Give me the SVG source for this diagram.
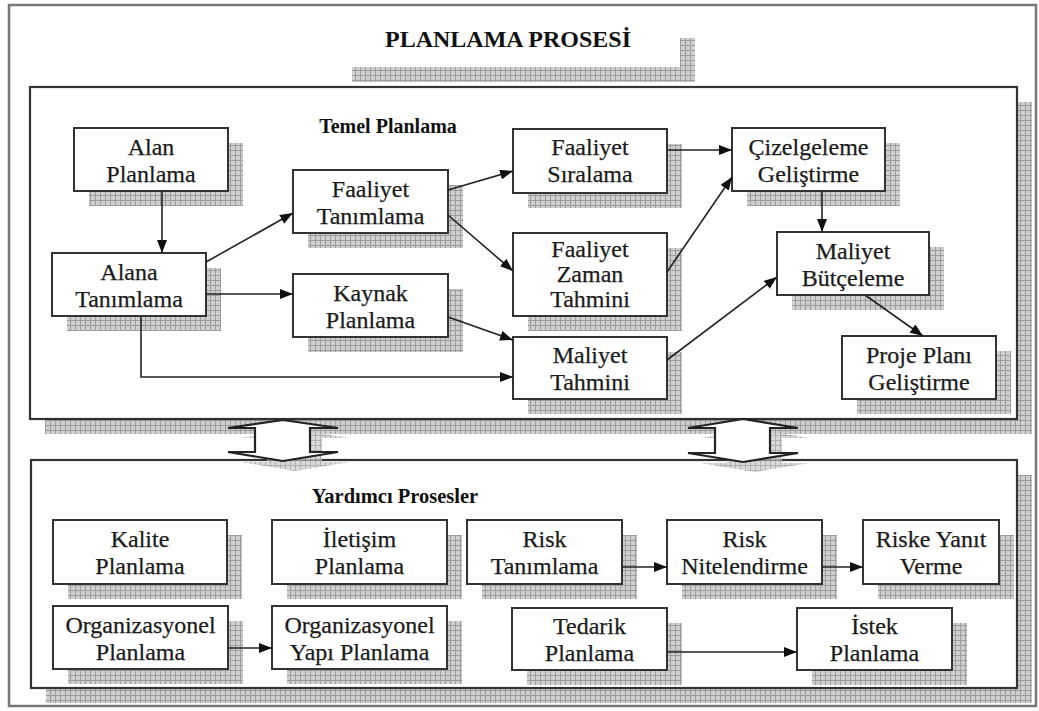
<svg xmlns="http://www.w3.org/2000/svg" width="1039" height="711" viewBox="0 0 1039 711">
<style>
.t{font-family:"Liberation Serif","Times New Roman",serif;font-size:24px;text-anchor:middle;fill:#1a1a1a;stroke:#1a1a1a;stroke-width:0.25}
.h{font-family:"Liberation Serif","Times New Roman",serif;font-weight:bold;text-anchor:middle;fill:#111}
.box{fill:#fff;stroke:#333;stroke-width:2}
.sh{fill:url(#grid)}
.frame{fill:#fff;stroke:#333;stroke-width:2.2}
.con{fill:none;stroke:#222;stroke-width:1.6;marker-end:url(#arr)}
.dbl{fill:#fff;stroke:#222;stroke-width:2.2;stroke-linejoin:miter}
</style>
<defs>
<pattern id="grid" width="5" height="5" patternUnits="userSpaceOnUse">
<rect width="5" height="5" fill="#cfcfcf"/>
<path d="M0 0.5H5M0.5 0V5" stroke="#9c9c9c" stroke-width="1"/>
</pattern>
<marker id="arr" markerUnits="userSpaceOnUse" markerWidth="14" markerHeight="10" refX="13" refY="5" orient="auto">
<path d="M0,0 L13,5 L0,10 z" fill="#111"/>
</marker>
</defs>
<rect width="1039" height="711" fill="#fff"/>
<rect x="9" y="5" width="1027" height="701" fill="none" stroke="#777" stroke-width="2.5"/>

<g id="title">
<path class="sh" d="M352 67H680V38H695V82H352Z"/>
<text class="h" x="508" y="47" font-size="24">PLANLAMA PROSESİ</text>
</g>

<g id="temel-planlama">
<rect class="sh" x="45" y="102" width="987" height="332"/>
<rect class="frame" x="30" y="87" width="987" height="332"/>
<text class="h" x="388" y="133" font-size="20">Temel Planlama</text>
</g>

<g id="yardimci-prosesler">
<rect class="sh" x="46" y="475" width="986" height="228"/>
<rect class="frame" x="31" y="460" width="986" height="228"/>
<text class="h" x="395" y="503" font-size="20.5">Yardımcı Prosesler</text>
</g>

<g id="double-arrow-left">
<path class="sh" opacity="0.8" d="M295 430L350 438H322V462H350L295 471L240 462H267V438H240Z"/>
<path class="dbl" d="M283 420L338 428H310V452H338L283 461L228 452H255V428H228Z"/>
</g>
<g id="double-arrow-right">
<path class="sh" opacity="0.8" d="M755 429L810 438H782V463H810L755 472L700 463H727V438H700Z"/>
<path class="dbl" d="M743 419L798 428H770V453H798L743 462L688 453H715V428H688Z"/>
</g>

<g id="n-alan-planlama">
<rect class="sh" x="89" y="143" width="154" height="63"/>
<rect class="box" x="74" y="128" width="154" height="63"/>
<text class="t" x="151" y="155">Alan</text><text class="t" x="151" y="182">Planlama</text>
</g>
<g id="n-alana-tanimlama">
<rect class="sh" x="67" y="268" width="154" height="63"/>
<rect class="box" x="52" y="253" width="154" height="63"/>
<text class="t" x="129" y="280">Alana</text><text class="t" x="129" y="307">Tanımlama</text>
</g>
<g id="n-faaliyet-tanimlama">
<rect class="sh" x="308" y="185" width="155" height="63"/>
<rect class="box" x="293" y="170" width="155" height="63"/>
<text class="t" x="370.5" y="197">Faaliyet</text><text class="t" x="370.5" y="224">Tanımlama</text>
</g>
<g id="n-kaynak-planlama">
<rect class="sh" x="308" y="289" width="155" height="63"/>
<rect class="box" x="293" y="274" width="155" height="63"/>
<text class="t" x="370.5" y="301">Kaynak</text><text class="t" x="370.5" y="328">Planlama</text>
</g>
<g id="n-faaliyet-siralama">
<rect class="sh" x="528" y="144" width="154" height="64"/>
<rect class="box" x="513" y="129" width="154" height="64"/>
<text class="t" x="590" y="155">Faaliyet</text><text class="t" x="590" y="182">Sıralama</text>
</g>
<g id="n-faaliyet-zaman-tahmini">
<rect class="sh" x="528" y="248" width="154" height="83"/>
<rect class="box" x="513" y="233" width="154" height="83"/>
<text class="t" x="590" y="257">Faaliyet</text><text class="t" x="590" y="282">Zaman</text><text class="t" x="590" y="307">Tahmini</text>
</g>
<g id="n-maliyet-tahmini">
<rect class="sh" x="528" y="352" width="154" height="62"/>
<rect class="box" x="513" y="337" width="154" height="62"/>
<text class="t" x="590" y="363">Maliyet</text><text class="t" x="590" y="390">Tahmini</text>
</g>
<g id="n-cizelgeleme-gelistirme">
<rect class="sh" x="747" y="143" width="153" height="63"/>
<rect class="box" x="732" y="128" width="153" height="63"/>
<text class="t" x="808.5" y="155">Çizelgeleme</text><text class="t" x="808.5" y="182">Geliştirme</text>
</g>
<g id="n-maliyet-butceleme">
<rect class="sh" x="792" y="247" width="152" height="63"/>
<rect class="box" x="777" y="232" width="152" height="63"/>
<text class="t" x="853" y="259">Maliyet</text><text class="t" x="853" y="286">Bütçeleme</text>
</g>
<g id="n-proje-plani-gelistirme">
<rect class="sh" x="857" y="351" width="154" height="63"/>
<rect class="box" x="842" y="336" width="154" height="63"/>
<text class="t" x="919" y="363">Proje Planı</text><text class="t" x="919" y="390">Geliştirme</text>
</g>

<g id="n-kalite-planlama">
<rect class="sh" x="68" y="535" width="174" height="64"/>
<rect class="box" x="53" y="520" width="174" height="64"/>
<text class="t" x="140" y="547">Kalite</text><text class="t" x="140" y="574">Planlama</text>
</g>
<g id="n-iletisim-planlama">
<rect class="sh" x="287" y="535" width="175" height="64"/>
<rect class="box" x="272" y="520" width="175" height="64"/>
<text class="t" x="359.5" y="547">İletişim</text><text class="t" x="359.5" y="574">Planlama</text>
</g>
<g id="n-risk-tanimlama">
<rect class="sh" x="482" y="535" width="155" height="64"/>
<rect class="box" x="467" y="520" width="155" height="64"/>
<text class="t" x="544.5" y="547">Risk</text><text class="t" x="544.5" y="574">Tanımlama</text>
</g>
<g id="n-risk-nitelendirme">
<rect class="sh" x="682" y="535" width="155" height="64"/>
<rect class="box" x="667" y="520" width="155" height="64"/>
<text class="t" x="744.5" y="547">Risk</text><text class="t" x="744.5" y="574">Nitelendirme</text>
</g>
<g id="n-riske-yanit-verme">
<rect class="sh" x="878" y="535" width="136" height="64"/>
<rect class="box" x="863" y="520" width="136" height="64"/>
<text class="t" x="931" y="547">Riske Yanıt</text><text class="t" x="931" y="574">Verme</text>
</g>
<g id="n-organizasyonel-planlama">
<rect class="sh" x="68" y="621" width="175" height="63"/>
<rect class="box" x="53" y="606" width="175" height="63"/>
<text class="t" x="140.5" y="633">Organizasyonel</text><text class="t" x="140.5" y="660">Planlama</text>
</g>
<g id="n-organizasyonel-yapi-planlama">
<rect class="sh" x="287" y="621" width="175" height="63"/>
<rect class="box" x="272" y="606" width="175" height="63"/>
<text class="t" x="359.5" y="633">Organizasyonel</text><text class="t" x="359.5" y="660">Yapı Planlama</text>
</g>
<g id="n-tedarik-planlama">
<rect class="sh" x="527" y="623" width="155" height="62"/>
<rect class="box" x="512" y="608" width="155" height="62"/>
<text class="t" x="589.5" y="634">Tedarik</text><text class="t" x="589.5" y="661">Planlama</text>
</g>
<g id="n-istek-planlama">
<rect class="sh" x="812" y="623" width="155" height="62"/>
<rect class="box" x="797" y="608" width="155" height="62"/>
<text class="t" x="874.5" y="634">İstek</text><text class="t" x="874.5" y="661">Planlama</text>
</g>

<g id="connectors">
<path class="con" d="M162 191V253"/>
<path class="con" d="M206 262L293 213"/>
<path class="con" d="M206 294H293"/>
<path class="con" d="M141 316V377H513"/>
<path class="con" d="M448 190L513 171"/>
<path class="con" d="M448 215L513 271"/>
<path class="con" d="M448 317L513 340"/>
<path class="con" d="M667 150H732"/>
<path class="con" d="M667 272L732 177"/>
<path class="con" d="M822 191V232"/>
<path class="con" d="M667 360L777 277"/>
<path class="con" d="M865 295L923 336"/>
<path class="con" d="M622 567H667"/>
<path class="con" d="M822 567H863"/>
<path class="con" d="M228 648H272"/>
<path class="con" d="M667 652H797"/>
</g>
</svg>
